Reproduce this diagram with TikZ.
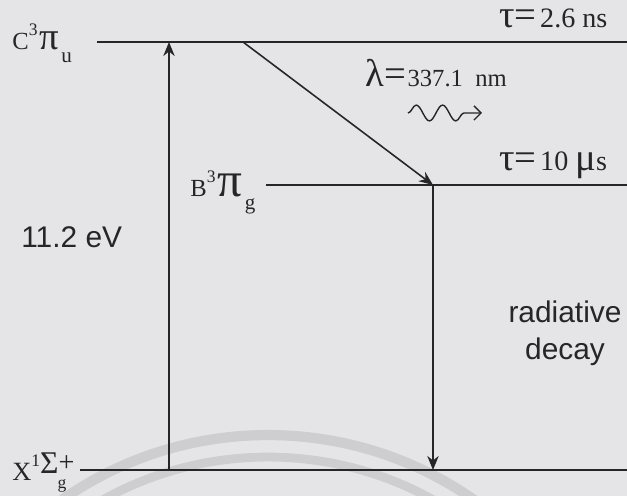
\documentclass[tikz,border=0pt]{standalone}
\usepackage{fontspec}
\setmainfont{Liberation Serif}
\newfontfamily\arialfont{Liberation Sans}
\usetikzlibrary{arrows.meta,decorations.pathmorphing,positioning}

\definecolor{scanbg}{RGB}{229,229,231}
\definecolor{ink}{RGB}{38,38,38}
\definecolor{watermark}{RGB}{206,206,208}

% font sizes used in the labels
\newcommand{\smallser}{\fontsize{16}{18}\selectfont}
\newcommand{\bigser}{\fontsize{22}{24}\selectfont}
\newcommand{\tinyser}{\fontsize{10}{11}\selectfont}
\newcommand{\subser}{\fontsize{12}{13}\selectfont}
% term symbol: letter, superscript, size of greek, greek, subscript
\newcommand{\termsym}[5]{\fontsize{14}{16}\selectfont #1\raisebox{8pt}{\tinyser #2}\hspace{1pt}{\fontsize{#3}{#3}\selectfont #4}\hspace{1.5pt}\raisebox{-7pt}{\subser #5}}

\begin{document}
\begin{tikzpicture}[
        x=0.02cm, y=-0.02cm,
        level/.style={line width=1.3pt, draw=ink},
        trans/.style={line width=0.9pt, draw=ink, -{Stealth[length=8pt, width=6.5pt]}},
        photon/.style={line width=0.8pt, draw=ink, decorate,
            decoration={snake, segment length=15, amplitude=4.5, post length=9},
            -{Straight Barb[length=4pt, width=8pt]}},
        lab/.style={inner sep=0pt, text=ink, anchor=base west},
        sans/.style={inner sep=0pt, text=ink, font=\arialfont\fontsize{17}{21}\selectfont, align=center}
    ]
\fill[scanbg] (0,0) rectangle (627,496);
\useasboundingbox (0,0) rectangle (627,496);

% faint arcs of the scan
\begin{scope}
\clip (0,0) rectangle (627,496);
\draw[watermark, line width=5.8pt] (268,795) circle [radius=7.2cm];
\draw[watermark, line width=5pt] (268,797) circle [radius=6.8cm];
\end{scope}

% Levels
\coordinate (cstart) at (97,42);   \coordinate (cend) at (627,42);
\coordinate (bstart) at (266,185); \coordinate (bend) at (627,185);
\coordinate (xstart) at (80,470);  \coordinate (xend) at (627,470);
\draw[level] (cstart) -- (cend);
\draw[level] (bstart) -- (bend);
\draw[level] (xstart) -- (xend);

% State labels
\node[lab] (clab) at (12,50) {\termsym{C}{3}{22}{π}{u}};
\node[lab] (blab) at (190,197) {\termsym{B}{3}{28}{π}{g}};
\node[lab] (xlab) at (12,481) {\fontsize{15}{17}\selectfont X\raisebox{8pt}{\tinyser 1}\raisebox{4pt}{{\fontsize{18}{20}\selectfont Σ}\raisebox{1.5pt}{\fontsize{16}{17}\selectfont +}}\hspace{-9.5pt}\raisebox{-4pt}{\tinyser g}};

% Lifetimes and wavelength
\node[lab] (tauc) at (499,28) {{\bigser τ=}\hspace{2pt}\smallser 2.6 ns};
\node[lab] (taub) at (499,171) {{\bigser τ=}\hspace{2pt}\smallser 10 {\fontsize{22}{24}\selectfont μ}s};
\node[lab] (lambda) at (365,87) {{\bigser λ=}\hspace{1pt}\fontsize{14}{16}\selectfont 337.1~~nm};

% Transitions
\coordinate (upfoot) at (169,470); \coordinate (uptop) at (169,42);
\coordinate (diagtop) at (243,42); \coordinate (bdot) at (433,185);
\coordinate (downfoot) at (433,470);
\draw[trans] (upfoot) -- (uptop);
\draw[trans] (diagtop) -- (bdot);
\draw[trans] (bdot) -- (downfoot);

\coordinate (wavestart) at (408,113); \coordinate (waveend) at (482,113);
\draw[photon] (wavestart) -- (waveend);

\node[sans, anchor=base west] (energy) at (21,248) {11.2 eV};
\node[sans] (decay) at (565,333) {radiative\\decay};
\end{tikzpicture}
\end{document}
